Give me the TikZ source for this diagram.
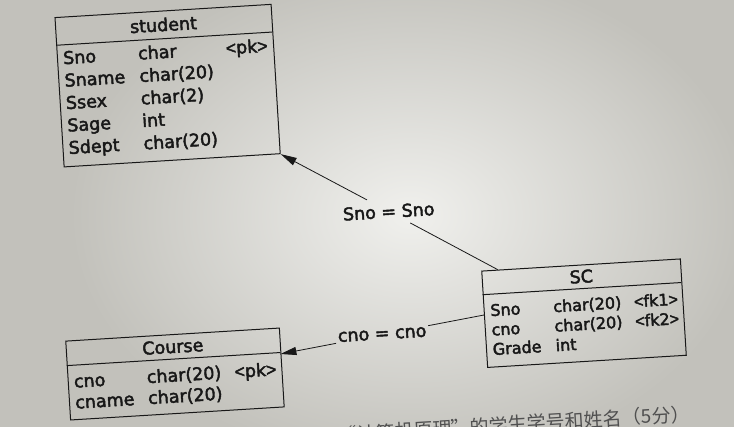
\documentclass[tikz,border=0pt]{standalone}
\usepackage{fontspec}
\setmainfont{DejaVu Sans}[FakeBold=2.5]
\newfontfamily\angfont{Liberation Sans}[FakeBold=2.5]
\newfontfamily\cjk{Noto Sans CJK SC}
\usetikzlibrary{arrows.meta}
\definecolor{paper}{RGB}{194,193,187}
\definecolor{paperhi}{RGB}{240,240,237}
\definecolor{ink}{RGB}{24,24,24}
\definecolor{qink}{RGB}{80,80,80}
\newcommand{\ltag}[1]{{\angfont<}#1{\angfont>}}
\begin{document}
\begin{tikzpicture}[x=1pt,y=-1pt,
  tbl/.style={draw=ink,line width=1pt,anchor=north west,inner sep=0pt},
  hdr/.style={draw=ink,line width=1pt},
  ttl/.style={text=ink,inner sep=0pt,anchor=center},
  fld/.style={text=ink,inner sep=0pt,anchor=base west},
  big/.style={font=\fontsize{17.5}{21}\selectfont},
  small/.style={font=\fontsize{16}{19}\selectfont},
  conn/.style={draw=ink,line width=0.8pt},
  tip/.style={-{Triangle[length=16pt,width=8pt]}},
  rel/.style={text=ink,font=\fontsize{17.5}{21}\selectfont,inner xsep=2pt,inner ysep=6pt},
  quest/.style={text=qink,font=\cjk\fontsize{19}{22}\selectfont,inner sep=0pt,anchor=east}
]
\useasboundingbox (0,0) rectangle (734,427);
\clip (0,0) rectangle (734,427);
\fill[paper] (0,0) rectangle (734,427);
\shade[inner color=paperhi,outer color=paper] (410,215) ellipse [x radius=340pt,y radius=250pt];
\begin{scope}[rotate around={3.5:(367,213)},transform shape]
  % student table
  \node[tbl,minimum width=216.5pt,minimum height=149.6pt] (student) at (67,-1.6) {};
  \draw[hdr] (67,26.6) -- (283.5,26.6);
  \node[ttl,big] (student-title) at (175.3,12.5) {student};
  \node[fld,big] (s1a) at (73,46) {Sno};
  \node[fld,big] (s1b) at (148,46) {char};
  \node[fld,big] (s1c) at (236,46) {\ltag{pk}};
  \node[fld,big] (s2a) at (73,68.5) {Sname};
  \node[fld,big] (s2b) at (148,68.5) {char(20)};
  \node[fld,big] (s3a) at (73,91) {Ssex};
  \node[fld,big] (s3b) at (148,91) {char(2)};
  \node[fld,big] (s4a) at (73,113.5) {Sage};
  \node[fld,big] (s4b) at (148,113.5) {int};
  \node[fld,big] (s5a) at (73,136) {Sdept};
  \node[fld,big] (s5b) at (148,136) {char(20)};
  % Course table
  \node[tbl,minimum width=214pt,minimum height=79pt] (course) at (58,322) {};
  \draw[hdr] (58,347) -- (272,347);
  \node[ttl,big] (course-title) at (165,334.5) {Course};
  \node[fld,big] (c1a) at (64,369.5) {cno};
  \node[fld,big] (c1b) at (137,369.5) {char(20)};
  \node[fld,big] (c1c) at (225,369.5) {\ltag{pk}};
  \node[fld,big] (c2a) at (64,390.5) {cname};
  \node[fld,big] (c2b) at (137,390.5) {char(20)};
  % SC table
  \node[tbl,minimum width=199pt,minimum height=96.5pt] (sc) at (477.5,277.5) {};
  \draw[hdr] (477.5,301.6) -- (676.5,301.6);
  \node[ttl,big] (sc-title) at (577,289.5) {SC};
  \node[fld,small] (k1a) at (484,323.5) {Sno};
  \node[fld,small] (k1b) at (547,323.5) {char(20)};
  \node[fld,small] (k1c) at (628,323.5) {\ltag{fk1}};
  \node[fld,small] (k2a) at (484,343) {cno};
  \node[fld,small] (k2b) at (547,343) {char(20)};
  \node[fld,small] (k2c) at (628,343) {\ltag{fk2}};
  \node[fld,small] (k3a) at (484,362.5) {Grade};
  \node[fld,small] (k3b) at (547,362.5) {int};
  % connectors
  \coordinate (sc-sno) at (494,277.5);
  \coordinate (sc-cno) at (477.5,322);
  \coordinate (course-cno) at (272,348.5);
  \node[rel] (r1) at (388.75,212.75) {Sno = Sno};
  \node[rel] (r2) at (374.75,335.25) {cno = cno};
  \draw[conn] (sc-sno) -- (r1);
  \draw[conn,tip] (r1) -- (student.south east);
  \draw[conn] (sc-cno) -- (r2);
  \draw[conn,tip] (r2) -- (course-cno);
  % cut-off question text
  \node[quest] (q) at (677,433) {修了“计算机原理”的学生学号和姓名（5分）};
\end{scope}
\end{tikzpicture}
\end{document}
